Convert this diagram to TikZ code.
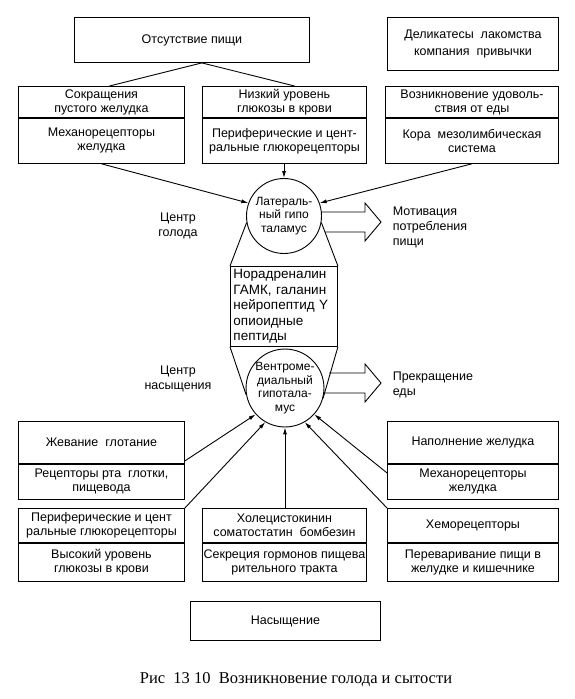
\documentclass[tikz,border=0pt]{standalone}
\usepackage{fontspec}
\setmainfont{Liberation Sans}
\newfontfamily\capfont{Liberation Serif}
\usetikzlibrary{arrows.meta}

\begin{document}
\begin{tikzpicture}[x=1pt, y=-1pt, line width=0.9pt, >={Latex[length=7pt,width=4pt]},
    box/.style={draw, align=center, inner sep=1pt, anchor=north west, font=\fontsize{12.5}{14}\selectfont},
    hub/.style={draw, circle, inner sep=0pt, minimum size=75pt, align=center, font=\fontsize{12}{13.5}\selectfont},
    note/.style={align=center, font=\fontsize{12.5}{15}\selectfont}]
  \useasboundingbox (0,0) rectangle (575,699);

  \node[box, minimum width=235, minimum height=45] (absent) at (74,17) {Отсутствие пищи};
  \node[box, minimum width=171, minimum height=53, font=\fontsize{12.5}{16.5}\selectfont] (treats) at (387,17)
    {Деликатесы\ \ лакомства\\компания\ \ привычки};

  \foreach \n/\x/\y/\w/\h/\k/\t/\b in {
      s1/18/86/166/31/45/{Сокращения\\пустого желудка}/{Механорецепторы\\желудка},
      s2/202/86/164/31/45/{Низкий уровень\\глюкозы в крови}/{Периферические и цент-\\ральные глюкорецепторы},
      s3/385/86/173/31/45/{Возникновение удоволь-\\ствия от еды}/{Кора\ \ мезолимбическая\\система},
      r1/18/421/166/42/35/{Жевание\ \ глотание}/{Рецепторы рта\ \ глотки,\\пищевода},
      r2/387/421/171/42/35/{Наполнение желудка}/{Механорецепторы\\желудка},
      q1/18/508/166/34/38/{Периферические и цент\\ральные глюкорецепторы}/{Высокий уровень\\глюкозы в крови},
      q2/202/508/164/34/38/{Холецистокинин\\соматостатин\ \ бомбезин}/{Секреция гормонов пищева\\рительного тракта},
      q3/387/508/171/34/38/{Хеморецепторы}/{Переваривание пищи в\\желудке и кишечнике}}{
    \node[box, minimum width=\w, minimum height=\h] (\n-t) at (\x,\y) {\t};
    \node[box, minimum width=\w, minimum height=\k] (\n-b) at (\n-t.south west) {\b};
  }

  \node[hub] (lat) at (284,216) {Латераль-\\ный гипо\\таламус};
  \node[hub, minimum size=76pt] (vmh) at (285,388) {Вентроме-\\диальный\\гипотала-\\мус};
  \node[draw, anchor=north west, text width=101pt, minimum height=80, inner sep=3pt, align=left,
    font=\fontsize{13.5}{15.5}\selectfont] (trans) at (230,266)
    {Норадреналин\\ГАМК, галанин\\нейропептид Y\\опиоидные\\пептиды};

  \node[note] (hunger) at (178,226) {Центр\\голода};
  \node[note] (satiety) at (178,379) {Центр\\насыщения};
  \node[note, anchor=west, align=left] (motiv) at (389,227) {Мотивация\\потребления\\пищи};
  \node[note, anchor=west, align=left] (stop) at (389,385) {Прекращение\\еды};

  \node[box, minimum width=190, minimum height=39] (full) at (190,601) {Насыщение};
  \node[font=\capfont\fontsize{16.5}{20}\selectfont] (caption) at (296,680)
    {Рис\ \ 13 10\ \ Возникновение голода и сытости};

  \draw ([xshift=10pt]absent.south) -- ([xshift=8pt]s1-t.north);
  \draw ([xshift=10pt]absent.south) -- ([xshift=10pt]s2-t.north);
  \draw[->] (s1-b.south) -- (lat.160);
  \draw[->] (lat.north |- s2-b.south) -- (lat.north);
  \draw[->] (s3-b.south) -- (lat.20);

  \draw (lat.190) -- (trans.north west);
  \draw (lat.350) -- (trans.north east);
  \draw (trans.south west) -- (vmh.190);
  \draw (trans.south east) -- (vmh.345);

  \draw (321,212) -- (365,212) -- (365,203) -- (381,222) -- (365,241) -- (365,232) -- (325,232);
  \draw (329,373) -- (365,373) -- (365,364) -- (381,383) -- (365,402) -- (365,393) -- (323,393);

  \draw[->] ([yshift=3pt]r1-t.south east) -- (vmh.222);
  \draw[->] (q1-t.north east) -- (vmh.240);
  \draw[->] (vmh.south |- q2-t.north) -- (vmh.south);
  \draw[->] (q3-t.north west) -- (vmh.300);
  \draw[->] ([yshift=-9pt]r2-t.south west) -- (vmh.318);
\end{tikzpicture}
\end{document}
